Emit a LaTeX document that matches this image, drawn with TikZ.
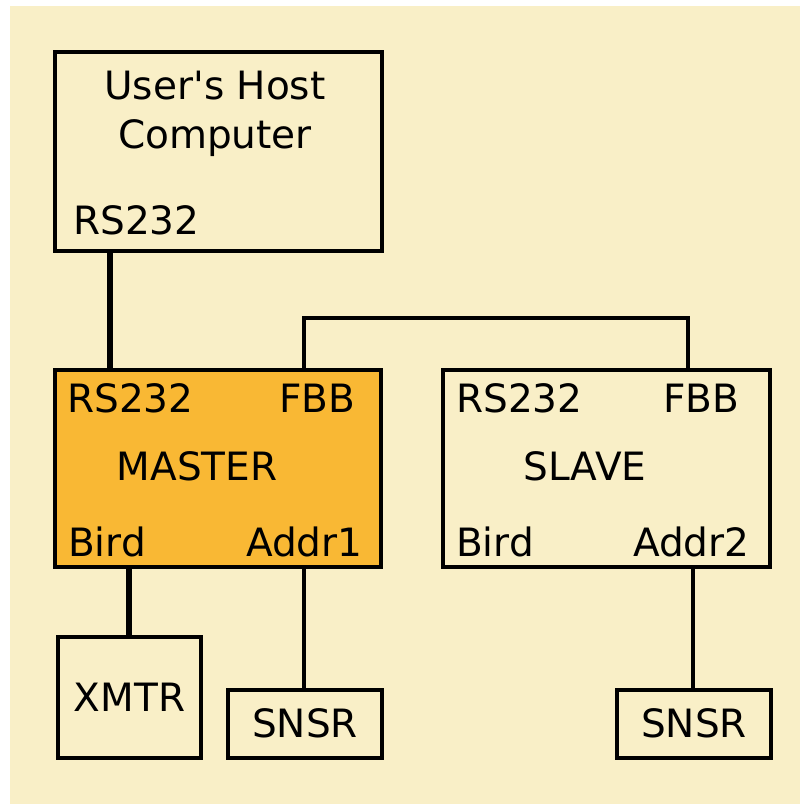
\documentclass[tikz,border=0pt]{standalone}
\usepackage{fontspec}
\setmainfont{DejaVu Sans}
\definecolor{paper}{RGB}{249,239,199}
\definecolor{mastorange}{RGB}{249,184,52}
\tikzset{
  box/.style={draw=black, line width=4.5pt, inner sep=0pt},
  lbl/.style={font=\fontsize{39}{44}\selectfont, inner sep=0pt, anchor=base},
  wire/.style={line width=6pt, draw=black},
  thinwire/.style={line width=4.5pt, draw=black}
}
\begin{document}
\begin{tikzpicture}[x=1pt,y=1pt]
\useasboundingbox (0,0) rectangle (800,804);
\fill[white] (0,0) rectangle (800,804);
\fill[paper] (10,-1) rectangle (801,798);
% boxes (y = 804 - pixel y)
\node[box, minimum width=327pt, minimum height=199pt] (host) at (218.5,652.5) {};
\node[box, fill=mastorange, minimum width=326pt, minimum height=197pt] (master) at (218,335.5) {};
\node[box, minimum width=327pt, minimum height=197pt] (slave) at (606.5,335.5) {};
\node[box, minimum width=143pt, minimum height=121pt] (xmtr) at (129.5,106.5) {};
\node[box, minimum width=154pt, minimum height=68pt] (snsra) at (305,80) {};
\node[box, minimum width=154pt, minimum height=68pt] (snsrb) at (694,80) {};
% host texts
\node[lbl] (t1) at (215,704) {User\textquotesingle s Host};
\node[lbl] (t2) at (215,655) {Computer};
\node[lbl, anchor=base west] (t3) at (73,569) {RS232};
% master texts
\node[lbl, anchor=base west] (m1) at (67,391) {RS232};
\node[lbl, anchor=base west] (m2) at (279,391) {FBB};
\node[lbl] (m3) at (197,323) {MASTER};
\node[lbl, anchor=base west] (m4) at (68,247) {Bird};
\node[lbl, anchor=base west] (m5) at (246,247) {Addr1};
% slave texts
\node[lbl, anchor=base west] (s1) at (456,391) {RS232};
\node[lbl, anchor=base west] (s2) at (663,391) {FBB};
\node[lbl] (s3) at (585,323) {SLAVE};
\node[lbl, anchor=base west] (s4) at (456,247) {Bird};
\node[lbl, anchor=base west] (s5) at (633,247) {Addr2};
% small boxes texts
\node[lbl] (x1) at (xmtr.center) [yshift=-14pt] {XMTR};
\node[lbl] (n1) at (snsra.center) [yshift=-14pt] {SNSR};
\node[lbl] (n2) at (snsrb.center) [yshift=-14pt] {SNSR};
% connectors
\draw[wire] (host.south -| 110,0) -- (master.north -| 110,0);
\draw[thinwire] (master.north -| 304,0) -- (304,486) -- (688,486) -- (slave.north -| 688,0);
\draw[wire] (master.south -| 129,0) -- (xmtr.north -| 129,0);
\draw[thinwire] (master.south -| 304,0) -- (snsra.north -| 304,0);
\draw[thinwire] (slave.south -| 693,0) -- (snsrb.north -| 693,0);
\end{tikzpicture}
\end{document}
